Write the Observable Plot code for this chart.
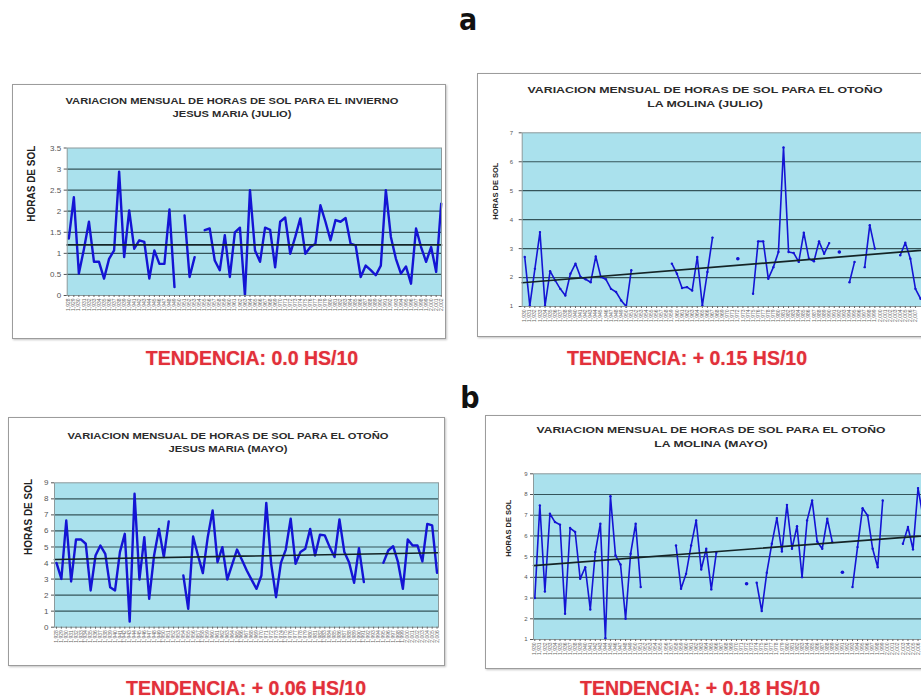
<!DOCTYPE html>
<html><head><meta charset="utf-8">
<script src="https://cdn.jsdelivr.net/npm/d3@7"></script>
<script src="https://cdn.jsdelivr.net/npm/@observablehq/plot@0.6"></script>
<style>
html,body{margin:0;padding:0;background:#fff;}
body{width:921px;height:698px;position:relative;overflow:hidden;font-family:"Liberation Sans",Arial,sans-serif;}
.box{position:absolute;background:#fff;border:1px solid #9c9c9c;box-shadow:1px 1px 2px #c4c4c4;box-sizing:border-box;}
.pl{position:absolute;}
.pl svg{max-width:none !important;overflow:visible;}
.ttl{position:absolute;white-space:nowrap;font-family:"Liberation Sans",Arial,sans-serif;font-weight:bold;font-size:9.5px;line-height:9.5px;color:#2b2b2b;transform-origin:50% 50%;}
.letter{position:absolute;font-family:"Liberation Sans Narrow","DejaVu Sans Condensed","Liberation Sans",Arial,sans-serif;font-stretch:condensed;font-weight:bold;font-size:30px;line-height:30px;color:#111;transform:translateX(-50%);}
.tend{position:absolute;white-space:nowrap;color:#e2303a;font-weight:bold;font-size:19.5px;line-height:19.5px;transform:translateX(-50%);text-shadow:0 0 1px rgba(226,48,58,0.5);}
</style></head><body>
<div class="letter" style="left:468px;top:5px">a</div>
<div class="letter" style="left:470px;top:383px">b</div>
<div class="box" style="left:12px;top:84px;width:434px;height:255px"></div>
<div class="box" style="left:477px;top:73px;width:500px;height:264px"></div>
<div class="box" style="left:8px;top:417px;width:437px;height:249px"></div>
<div class="box" style="left:485px;top:415px;width:500px;height:254px"></div>
<div class="pl" id="p1" style="left:12px;top:84px"></div>
<div class="pl" id="p2" style="left:477px;top:73px"></div>
<div class="pl" id="p3" style="left:8px;top:417px"></div>
<div class="pl" id="p4" style="left:485px;top:415px"></div>
<div class="tend" style="left:252px;top:349px">TENDENCIA: 0.0 HS/10</div>
<div class="tend" style="left:687px;top:349px">TENDENCIA: + 0.15 HS/10</div>
<div class="tend" style="left:246px;top:679px">TENDENCIA: + 0.06 HS/10</div>
<div class="tend" style="left:700px;top:679px">TENDENCIA: + 0.18 HS/10</div>
<script>
// ---------- data ----------
const jmYears = [1928,1929,1930,1931,1932,1933,1934,1935,1936,1937,1938,1939,1940,1941,1942,1943,1944,1945,1946,1947,1948,1949,1950,1951,1952,1953,1954,1955,1956,1957,1958,1959,1960,1961,1962,1963,1964,1965,1966,1967,1968,1969,1970,1971,1972,1973,1974,1975,1976,1977,1978,1979,1980,1981,1982,1983,1984,1985,1986,1987,1988,1989,1990,1991,1992,1993,1994,1995,1996,1997,1998,1999,2000,2001,2002,2003,2004,2005,2006];
const lmYears = [1930,1931,1932,1933,1934,1935,1936,1937,1938,1939,1940,1941,1942,1943,1944,1945,1946,1947,1948,1949,1950,1951,1952,1953,1954,1955,1956,1957,1958,1959,1960,1961,1962,1963,1964,1965,1966,1967,1968,1969,1970,1971,1972,1973,1974,1975,1976,1977,1978,1979,1980,1981,1982,1983,1984,1985,1986,1987,1988,1989,1990,1991,1992,1993,1994,1995,1996,1997,1998,1999,2000,2001,2002,2003,2004,2005,2006,2007,2008,2009,2010,2011,2012,2013,2014];

// Jesus Maria - Julio (horas de sol)
const jmJulio = [1.35,2.33,0.52,1.1,1.75,0.8,0.8,0.4,0.87,1.07,2.94,0.91,2.02,1.11,1.31,1.27,0.4,1.07,0.75,0.75,2.04,0.2,null,1.9,0.44,0.91,null,1.55,1.59,0.83,0.6,1.43,0.44,1.5,1.61,0.0,2.5,1.07,0.8,1.61,1.56,0.67,1.75,1.85,0.99,1.39,1.83,0.99,1.15,1.23,2.14,1.75,1.31,1.79,1.75,1.84,1.23,1.19,0.44,0.71,0.6,0.48,0.71,2.5,1.39,0.87,0.52,0.69,0.28,1.59,1.15,0.8,1.15,0.56,2.18];
// La Molina - Julio
const lmJulio = [2.71,1.03,2.3,3.57,1.03,2.22,1.9,1.61,1.38,2.13,2.48,2.02,1.94,1.84,2.73,2.02,1.94,1.61,1.5,1.21,1.0,2.25,null,null,null,null,null,null,null,2.48,2.13,1.64,1.67,1.55,2.71,1.03,2.19,3.38,null,null,null,null,2.65,null,null,1.44,3.25,3.25,1.96,2.36,2.88,6.49,2.88,2.85,2.54,3.55,2.65,2.56,3.25,2.82,3.19,null,2.88,null,1.84,2.54,null,2.36,3.81,3.0,null,null,null,null,2.77,3.2,2.65,1.61,1.27];
// Jesus Maria - Mayo
const jmMayo = [4.01,3.01,6.65,2.85,5.47,5.47,5.2,2.29,4.47,5.09,4.57,2.49,2.29,4.68,5.82,0.35,8.32,2.97,5.61,1.77,4.47,6.13,4.37,6.59,null,null,3.22,1.14,5.65,4.47,3.37,5.61,7.28,4.05,4.99,2.97,3.9,4.84,4.2,3.53,2.95,2.39,3.22,7.75,3.95,1.87,4.01,4.84,6.76,3.95,4.68,4.89,6.13,4.47,5.76,5.72,4.99,4.37,6.72,4.68,4.01,2.77,4.93,2.81,null,null,null,4.01,4.78,5.05,4.05,2.39,5.47,5.09,5.09,4.1,6.44,6.34,3.39];
// La Molina - Mayo
const lmMayo = [3.0,7.47,3.32,7.07,6.67,6.54,2.24,6.38,6.19,3.93,4.49,2.45,5.22,6.59,1.06,7.92,5.06,4.62,2.0,5.14,6.59,3.53,null,null,null,null,null,null,5.54,3.45,4.17,5.54,6.75,4.38,5.38,3.42,5.19,null,null,null,null,null,3.69,null,3.74,2.37,4.22,5.62,6.86,5.25,7.5,5.38,6.47,4.01,6.75,7.71,5.73,5.38,6.83,5.7,null,4.25,null,3.53,5.46,7.34,6.99,5.38,4.49,7.71,null,null,null,5.62,6.43,5.35,8.31,6.9];

// trend lines: value at start and end of the plotted span
const trendJMJulio = [1.2, 1.2];
const trendLMJulio = [1.82, 3.03];
const trendJMMayo = [4.22, 4.64];
const trendLMMayo = [4.57, 6.14];

const ticksJulioJM = [0,0.5,1,1.5,2,2.5,3,3.5];
const ticksJulioLM = [1,2,3,4,5,6,7];
const ticksMayoJM = [0,1,2,3,4,5,6,7,8,9];
const ticksMayoLM = [1,2,3,4,5,6,7,8,9];

const titles = [
  {lines:["VARIACION MENSUAL DE HORAS DE SOL PARA EL INVIERNO","JESUS MARIA (JULIO)"], cx:231.5, y1:100, y2:113, w:333},
  {lines:["VARIACION MENSUAL DE HORAS DE SOL PARA EL OTOÑO","LA MOLINA (JULIO)"], cx:705, y1:89, y2:103, w:355},
  {lines:["VARIACION MENSUAL DE HORAS DE SOL PARA EL OTOÑO","JESUS MARIA (MAYO)"], cx:228, y1:435, y2:448, w:321},
  {lines:["VARIACION MENSUAL DE HORAS DE SOL PARA EL OTOÑO","LA MOLINA (MAYO)"], cx:710.5, y1:429, y2:443, w:349}
];

// ---------- drawing ----------
const BG = "#aae1ed";
const GRID = "#34545a";
const BLUE = "#1414d4";

function panel(cfg) {
  const data = cfg.values.map((v, i) => ({i, v}));
  const isolated = data.filter(d => d.v != null && cfg.values[d.i - 1] == null && cfg.values[d.i + 1] == null);
  const trend = [{x: cfg.xDomain[0], y: cfg.trend[0]}, {x: cfg.xDomain[1], y: cfg.trend[1]}];
  const xt = cfg.years.map((y, i) => i).filter(i => i >= cfg.xDomain[0] && i <= Math.min(cfg.xDomain[1], cfg.lastTick));
  const marks = [
    Plot.frame({fill: BG}),
    Plot.ruleY(cfg.yTicks.slice(1, -1), {stroke: GRID, strokeWidth: 1.2}),
    Plot.line(data, {x: "i", y: "v", stroke: BLUE, strokeWidth: cfg.lw, strokeLinejoin: "round"}),
    Plot.dot(isolated, {x: "i", y: "v", r: 1.8, fill: BLUE, stroke: null})
  ];
  if (cfg.markers) marks.push(Plot.dot(data.filter(d => d.v != null), {x: "i", y: "v", r: 1.2, fill: BLUE, stroke: null}));
  marks.push(
    Plot.line(trend, {x: "x", y: "y", stroke: "#142426", strokeWidth: 1.7}),
    Plot.frame({stroke: "#8c9a9c", strokeWidth: 1}),
    Plot.axisY({ticks: cfg.yTicks, tickFormat: d => String(d), tickSize: 3, tickPadding: cfg.tickPad, fontSize: cfg.yFont, color: "#555", label: null}),
    Plot.axisX({ticks: xt, tickFormat: i => cfg.years[i], tickRotate: -90, tickSize: 2, tickPadding: 1, fontSize: cfg.xFont, color: "#666", label: null}),
    Plot.text(["HORAS DE SOL"], {frameAnchor: "left", text: d => d, rotate: -90, dx: cfg.labelDx, fontSize: cfg.labelFont, fontWeight: "bold", fill: "#222"})
  );
  const svg = Plot.plot({
    width: cfg.width, height: cfg.height,
    marginLeft: cfg.m[0], marginTop: cfg.m[1], marginRight: cfg.m[2], marginBottom: cfg.m[3],
    x: {type: "linear", domain: cfg.xDomain},
    y: {type: "linear", domain: cfg.yDomain},
    style: {fontFamily: "'Liberation Sans', Arial, sans-serif", background: "transparent", overflow: "visible"},
    marks
  });
  document.getElementById(cfg.el).appendChild(svg);
}

panel({el: "p1", values: jmJulio, years: jmYears, trend: trendJMJulio, yTicks: ticksJulioJM,
  yDomain: [0, 3.5], xDomain: [-0.32, 74.06], width: 434, height: 255, m: [54.7, 63.5, 5, 44],
  lw: 2.4, markers: false, yFont: 8, xFont: 5, tickPad: 3, labelDx: -35, labelFont: 10, lastTick: 999});
panel({el: "p2", values: lmJulio, years: lmYears, trend: trendLMJulio, yTicks: ticksJulioLM,
  yDomain: [1, 7], xDomain: [-0.5, 84.5], width: 500, height: 264, m: [44.7, 59.3, 24, 31],
  lw: 1.6, markers: true, yFont: 6, xFont: 5, tickPad: 6, labelDx: -27, labelFont: 7.5, lastTick: 77});
panel({el: "p3", values: jmMayo, years: jmYears, trend: trendJMMayo, yTicks: ticksMayoJM,
  yDomain: [0, 9], xDomain: [-0.41, 78.3], width: 437, height: 249, m: [46, 65.3, 7, 39.3],
  lw: 2.4, markers: false, yFont: 8, xFont: 5, tickPad: 3, labelDx: -26, labelFont: 10, lastTick: 999});
panel({el: "p4", values: lmMayo, years: lmYears, trend: trendLMMayo, yTicks: ticksMayoLM,
  yDomain: [1, 9], xDomain: [-0.26, 84.5], width: 500, height: 254, m: [48, 58.3, 24.6, 30],
  lw: 1.6, markers: true, yFont: 6, xFont: 5, tickPad: 3, labelDx: -25, labelFont: 7.5, lastTick: 76});

// titles of the four charts
for (const t of titles) {
  const divs = t.lines.map((txt, k) => {
    const d = document.createElement("div");
    d.className = "ttl";
    d.textContent = txt;
    d.style.left = t.cx + "px";
    d.style.top = ((k === 0 ? t.y1 : t.y2) - 4.5) + "px";
    document.body.appendChild(d);
    return d;
  });
  const k = t.w / divs[0].getBoundingClientRect().width;
  for (const d of divs) d.style.transform = `translateX(-50%) scaleX(${k})`;
}
</script>
</body></html>
